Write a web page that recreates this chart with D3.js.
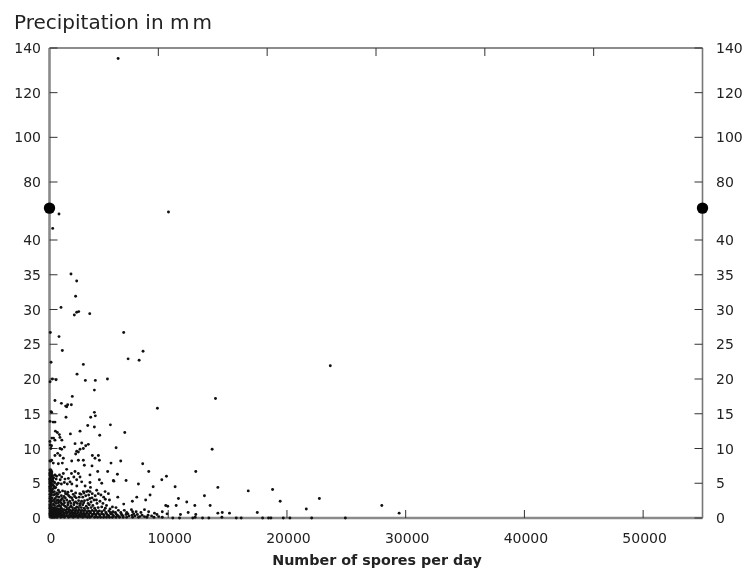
<!DOCTYPE html>
<html><head><meta charset="utf-8">
<script src="https://cdn.jsdelivr.net/npm/d3@7/dist/d3.min.js"></script>
<style>html,body{margin:0;padding:0;background:#fff}svg{display:block;filter:blur(0.45px)}text{font-family:"DejaVu Sans",sans-serif;fill:#222}</style>
</head><body><svg id="c" width="744" height="570"></svg>
<script>
const titleText = "Precipitation in mm";
const xLabel = "Number of spores per day";
const xTicks = [0,10000,20000,30000,40000,50000];
const topTicks = [10000,20000,30000,40000,50000];
const yTicks = [0,5,10,15,20,25,30,35,40,80,100,120,140];
const yBreakValue = 62;
const highRain = [[5780,135.3],[10020,59.3],[800,57.9],[270,48],[1810,35.1],[2290,34.1],[970,30.3],[2200,31.9],[2090,29.2],[2290,29.6],[2460,29.7],[3390,29.4],[70,26.7],[800,26.1],[1080,24.1],[130,22.4],[2850,22.1],[2320,20.7],[6250,26.7],[6620,22.9],[7550,22.7],[7880,24],[4880,20],[3020,19.8],[3860,19.8],[3780,18.4],[240,20],[550,19.9],[50,19.6],[23650,21.9],[13980,17.2],[9090,15.8]];
const midRain = [[460,16.9],[1000,16.5],[1920,17.5],[1840,16.3],[1530,16.3],[1450,16],[1360,16.1],[1390,14.5],[130,15.3],[180,15.2],[50,13.9],[460,13.8],[300,13.8],[3780,15.2],[3860,14.7],[3470,14.5],[3220,13.3],[3780,13.1],[5130,13.4],[13700,9.9],[6340,12.3],[4230,11.9],[2570,12.5],[1760,12.1],[500,12.5],[660,12.3],[830,12],[880,11.6],[340,11.5],[200,11.5],[460,11.2],[1040,11.2],[5610,10.1],
[3270,10.6],[3050,10.4],[2850,10],[2570,9.9],[2430,9.5],[2290,9.6],[2205,9.2],[2710,10.8],[2150,10.7],[1250,10.2],[1025,9.9],[885,10],[690,9.3],[460,9],[885,9],[1165,8.6],[180,8.3],[40,8.2],[320,7.9],[745,7.8],[1080,7.9],[2430,8.3],[2850,8.3],[1870,8.2],[3610,9],[3835,8.6],[4115,9],[2935,7.6],[3580,7.5],[4200,8.3],[5180,7.9],[6000,8.2],[7850,7.8],[100,8.2],[60,10.5],[120,10],[40,11],[170,10.4]];
const lowRain = [[40,6.9],[180,6.7],[460,6.2],[40,5.7],[180,5.2],[20,5.5],[320,4.7],[745,5],[1165,6.4],[1445,7],[1025,5.9],[1305,5.6],[1730,5.2],[1590,5.7],[2150,6.7],[2430,6.4],[2570,5.9],[2710,5.2],[2290,5.5],[3410,6.2],[4060,6.7],[4200,5.5],[4900,6.7],[5720,6.3],[4400,5],[5380,5.4],[5420,5.3],[6450,5.4],[7490,4.9],[3410,5.1],[8360,6.7],[12320,6.7],[9850,6],[9460,5.5],[10580,4.5],[8730,4.5],[14180,4.4],[16740,3.9],[18790,4.1],[19430,2.4],[22730,2.8],[21630,1.3],[27990,1.8],[29450,0.7],[17500,0.8],
[120,6.9],[70,6.6],[150,6.3],[60,6.1],[260,6.1],[120,5.9],[350,5.8],[90,5.4],[260,5.5],[560,5.6],[130,5],[60,4.8],[430,5.1],[600,6],[840,6.2],[900,5.5],[620,4.8],[1000,4.9],[1250,5.1],[1500,4.9],[1850,6.4],[2050,5.9],[1880,4.9],[2300,4.6],[3000,4.6],[3450,4.4],
[2850,3.8],[3130,3.8],[3410,3.8],[3975,4],[4115,3.5],[4680,3.8],[4960,3.5],[745,4],[1305,3.8],[180,4],[460,4.3],[20,4.5],[40,5],[5750,3],[13050,3.2],[10860,2.8],[8470,3.3],[8100,2.6],[7350,3],[6980,2.4],[11560,2.3],[13530,1.8],[6250,2],[10670,1.8],[12240,1.8],[9790,1.8],[9960,1.7],[8000,1.2],[8840,0.7],[11030,0.5],[11680,0.8],[14180,0.7],[14550,0.8],[15160,0.7],[12320,0.5],[4330,3.3],[4560,3],[5050,2.6],[4250,2.4],[4000,2.1],[3580,2.9],[3300,3.3],[3050,3.2],[2800,3],[2500,3],[2250,2.9],[2000,3.4],[1750,3],[1500,3.4],[1220,3.1],[1000,3.2],[800,3],[600,3.1],[350,3.3],[120,3.6],[60,3.1],[220,2.9],[480,2.8],[700,2.6],[950,2.6],[1200,2.5],[1450,2.6],[1700,2.4],[1950,2.6],[2200,2.3],[2450,2.5],[2700,2.4],[2950,2.5],[3200,2.6],[3500,2.3],[3750,2.6],[4500,2.1],[4800,1.8],[5300,1.6],[3650,1.8],[3350,1.9],[3100,1.7],[2800,1.9],[2550,1.8],[2300,1.6],[2050,1.9],[1800,1.7],[1550,1.9],[1300,1.7],[1050,2],[820,1.8],[580,2.1],[330,2],[120,2.2],[60,1.7],[250,1.5],[500,1.5],[750,1.3],[1000,1.4],[1250,1.2],[1500,1.3],[1750,1.1],[2000,1.2],[2250,1.1],[2500,1.2],[2750,1.1],[3000,1.1],[3300,1],[3600,1.1],[3900,1.1],[4200,1],[4600,1.1],[5000,1],[5350,0.9],[5800,1.1],[6300,1.1],[6900,1.2],[7300,0.9],[7700,0.8],
[50,1],[170,1],[320,1.1],[440,1],[620,1],[860,1],[1130,0.9],[1380,0.9],[1630,0.9],[1880,0.8],[2130,0.8],[2380,0.8],[2630,0.8],[2880,0.7],[3150,0.7],[3450,0.7],[3750,0.6],[4050,0.7],[4400,0.6],[4800,0.6],[5150,0.6],[5600,0.6],[6050,0.6],[6600,0.6],[7100,0.6],[9900,0.6],
[30,0.6],[130,0.6],[240,0.7],[380,0.6],[520,0.7],[680,0.6],[820,0.6],[980,0.6],[1200,0.5],[1450,0.6],[1700,0.5],[1950,0.5],[2200,0.5],[2500,0.4],[2750,0.5],[3000,0.4],[3300,0.4],[3600,0.3],[3900,0.3],[4250,0.3],[4600,0.3],[5000,0.3],[5400,0.3],[5800,0.3],[6200,0.3],[6700,0.3],[7200,0.3],[7600,0.2],[8000,0.2],[8600,0.3],[9200,0.2]];
const nearAxis = [[35,6.4],[95,6.2],[190,6.5],[40,6.2],[230,5.9],[70,5.9],[160,5.7],[300,5.3],[30,5.2],[110,5.2],[60,4.5],[150,4.6],[240,4.8],[380,4.5],[30,4.2],[100,4.3],[280,4.2],[520,4.4],[30,3.9],[90,3.8],[260,3.7],[400,3.8],[600,3.6],[850,3.7],[1100,3.9],[1550,3.7],[1850,3.9],[2200,3.6],[2550,3.5],[40,3.4],[170,3.3],[450,3.4],[700,3.4],[1350,3.5],[30,2.8],[130,2.7],[350,2.6],[600,2.5],[840,2.4],[1080,2.8],[1330,2.9],[1620,3.2],[1880,2.9],[2120,3.1],[2650,3.4],[2900,3.6],[3250,3.9],[3600,3.5],[3850,3.2],[40,2.4],[190,2.4],[430,2.3],[760,2.2],[980,2.2],[1260,2.2],[1550,2.2],[1800,2.1],[2080,2.2],[2350,2.1],[2600,2.1],[2880,2.2],[3250,2.1],[3400,2.8],[3950,2.6],[4700,2.7],[30,1.9],[170,1.8],[420,1.8],[680,1.7],[930,1.7],[1170,1.9],[1430,1.6],[1680,1.5],[1930,1.5],[2180,1.4],[2430,1.5],[2680,1.5],[2930,1.4],[3220,1.4],[3500,1.5],[3800,1.4],[4100,1.5],[4400,1.6],[4700,1.4],[5100,1.3],[5600,1.5],
[30,1.4],[120,1.5],[370,1.4],[620,1.3],[870,1.3],[1120,1.2],[1370,1.1],[1620,1.2],[1870,1],[2120,1],[2370,1],[2620,1],[2870,1],[3150,0.9],[3450,0.9],[3750,0.9],[4050,0.9],[4400,0.9],[4750,0.8],[5150,0.8],[5550,0.8],[6000,0.8],[6500,0.8],[7000,0.9],[8350,0.9],[9500,0.9],[100,1.2],[240,1.2],[460,1.2],[700,1.1],[940,1.1],[1040,0.8],[1260,0.7],[1540,0.8],[1790,0.7],[2040,0.7],[2290,0.6],[2540,0.6],[2790,0.6],[3050,0.6],[3300,0.6],[3620,0.5],[3920,0.5],[4200,0.5],[4550,0.5],[4900,0.4],[5300,0.5],[5700,0.4],[6100,0.4],[6450,0.5],[6950,0.4],[7400,0.5],[7800,0.4],[8300,0.4],[9050,0.5],[70,0.8],[190,0.8],[310,0.8],[440,0.8],[570,0.8],[740,0.8],[900,0.8],[60,0.4],[180,0.4],[310,0.4],[440,0.4],[580,0.4],[730,0.4],[880,0.4],[1040,0.4],[1300,0.3],[1580,0.3],[1820,0.3],[2080,0.3],[2340,0.3],[2620,0.3],[2880,0.3],[3150,0.2],[3500,0.2]];
const dryDays = [[80,0.2],[220,0.1],[300,0.2],[400,0.1],[500,0.2],[650,0.1],[800,0.3],[950,0.1],[1100,0.2],[1250,0.1],[1400,0.3],[1600,0.1],[1800,0.2],[2000,0.1],[2200,0.2],[2400,0.1],[2600,0.2],[2800,0.1],[3000,0.2],[3200,0.1],[3400,0.1],[3800,0.1],[4050,0.1],[4300,0.1],[4550,0.1],[4800,0.1],[5050,0.1],[5300,0.1],[5600,0.1],[5900,0.1],[6200,0.1],[6500,0.1],[7000,0.1],[7500,0.1],[8200,0.1],[8800,0.1],[9500,0.1],[10385,0],[10950,0],[12070,0],[12270,0.1],[12890,0],[13420,0],[14520,0.1],[15730,0],[16150,0],[17950,0],[18450,0],[18650,0],[19690,0],[20250,0],[22080,0],[24920,0]];
const observations = [...highRain,...midRain,...lowRain,...nearAxis,...dryDays];

const svg = d3.select("#c");
const x = d3.scaleLinear().domain([0,55000]).range([49.5,702.5]);
const y = d3.scaleLinear().domain([0,40,80,140]).range([518,240,182,48]);
const topX = d3.scaleLinear().domain([0,60000]).range([49.5,702.5]);
const [L,R] = x.range(), [B,T] = [518,48];

// frame
svg.append("line").attr("x1",L).attr("x2",L).attr("y1",T).attr("y2",B).attr("stroke","#8a8a8a").attr("stroke-width",2.6);
svg.append("line").attr("x1",R).attr("x2",R).attr("y1",T).attr("y2",B).attr("stroke","#777").attr("stroke-width",1.6);
svg.append("line").attr("x1",L).attr("x2",R).attr("y1",T).attr("y2",T).attr("stroke","#666").attr("stroke-width",1.5);
svg.append("line").attr("x1",L).attr("x2",R).attr("y1",B).attr("y2",B).attr("stroke","#8a8a8a").attr("stroke-width",2.4);

// ticks
const tc = "#333";
svg.selectAll(".yl").data(yTicks).join("line").attr("x1",L).attr("x2",L+8).attr("y1",y).attr("y2",y).attr("stroke",tc);
svg.selectAll(".yr").data(yTicks).join("line").attr("x1",R-8).attr("x2",R).attr("y1",y).attr("y2",y).attr("stroke",tc);
svg.selectAll(".xb").data(xTicks).join("line").attr("x1",x).attr("x2",x).attr("y1",B-8).attr("y2",B).attr("stroke",tc);
svg.selectAll(".xt").data(topTicks).join("line").attr("x1",topX).attr("x2",topX).attr("y1",T).attr("y2",T+8).attr("stroke",tc);

// labels
svg.selectAll(".tl").data(yTicks).join("text").attr("x",41).attr("y",d=>y(d)+5).attr("text-anchor","end").attr("font-size",14).text(d=>d);
svg.selectAll(".tr").data(yTicks).join("text").attr("x",716).attr("y",d=>y(d)+5).attr("font-size",14).text(d=>d);
svg.selectAll(".tb").data(xTicks).join("text").attr("x",d=>x(d)+1.5).attr("y",543).attr("text-anchor","middle").attr("font-size",14).text(d=>d);
const title = svg.append("text").attr("x",14).attr("y",29).attr("font-size",20);
title.append("tspan").text(titleText.slice(0,-1)).attr("letter-spacing",0);
title.append("tspan").text(titleText.slice(-1)).attr("dx",3);
svg.append("text").attr("x",377).attr("y",565).attr("text-anchor","middle").attr("font-size",14.3).attr("font-weight","bold").text(xLabel);

// points
svg.selectAll(".pt").data(observations).join("circle").attr("cx",d=>x(d[0])).attr("cy",d=>y(d[1])).attr("r",1.45).attr("fill","#111");

// axis-break dots
svg.selectAll(".brk").data([0,55000]).join("circle").attr("cx",x).attr("cy",y(yBreakValue)).attr("r",5.7).attr("fill","#000");
</script></body></html>
